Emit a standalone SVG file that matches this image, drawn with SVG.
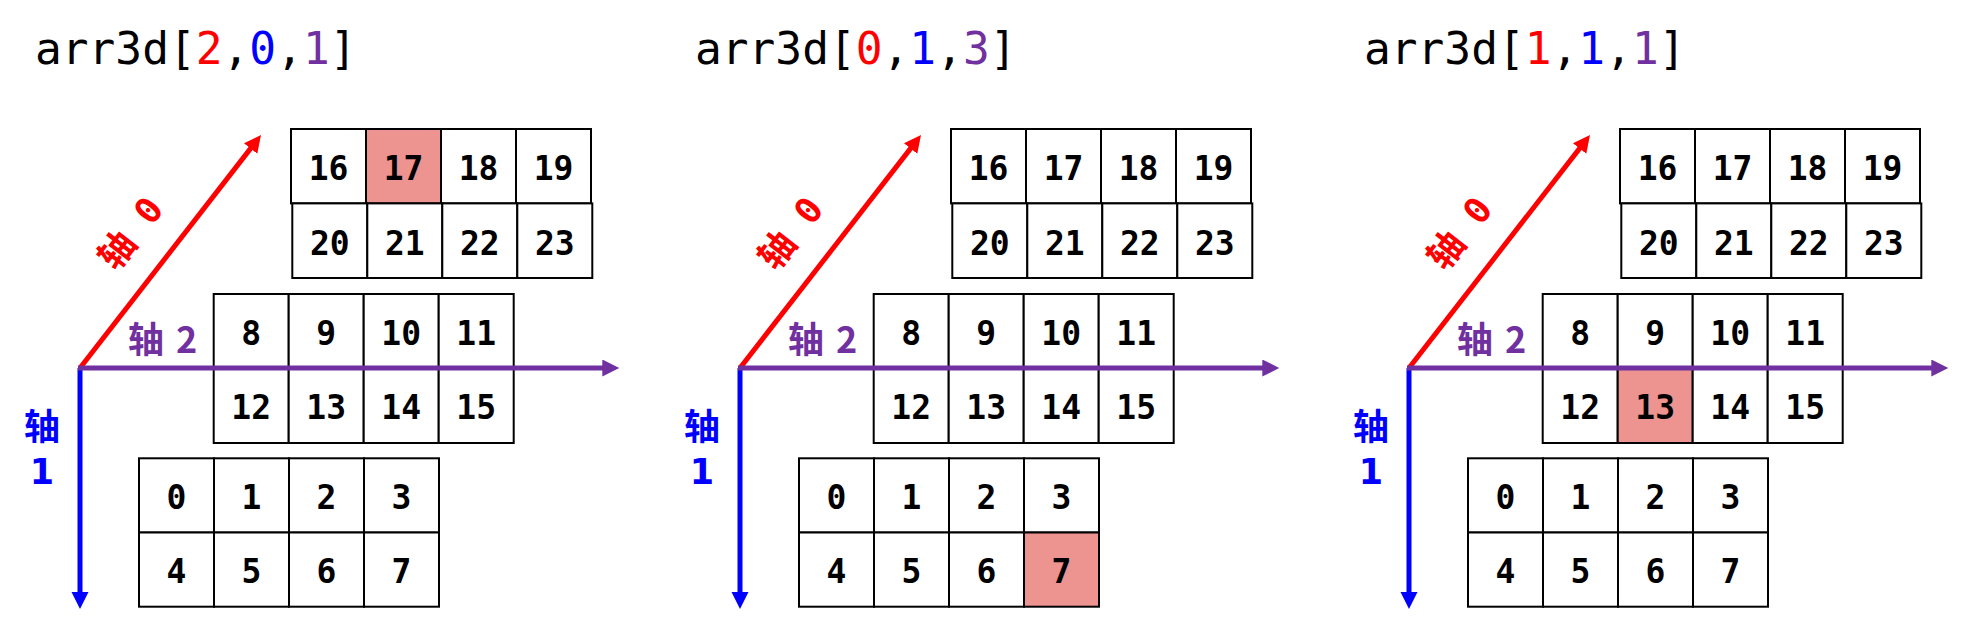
<svg xmlns="http://www.w3.org/2000/svg" width="1968" height="629" viewBox="0 0 1968 629">
<style>
.bg{fill:#ffffff}
.title{font-family:"DejaVu Sans Mono","Liberation Mono",monospace;font-size:44.5px;fill:#000}
.r{fill:#FF0000}.b{fill:#0000FF}.p{fill:#7030A0}
.cell rect{fill:#ffffff;stroke:#000;stroke-width:2}
.cell.hl rect{fill:#ED9390}
.cell text{font-family:"DejaVu Sans Mono","Liberation Mono",monospace;font-weight:bold;font-size:33px;text-anchor:middle;fill:#000}
.ax{stroke-width:5;fill:none}
.ax0{stroke:#FF0000}.ax1{stroke:#0000FF}.ax2{stroke:#7030A0}
.lbl{font-family:"Noto Sans CJK SC","DejaVu Sans",sans-serif;font-weight:bold;font-size:36px}
.num{font-family:"DejaVu Sans","Noto Sans CJK SC",sans-serif;font-weight:bold;font-size:35px}
.lbl0{font-family:"DejaVu Sans Mono","Noto Sans CJK SC",monospace;font-weight:bold;font-size:36px;text-anchor:middle;fill:#FF0000}
</style>
<defs>
<marker id="hr" markerUnits="userSpaceOnUse" markerWidth="18" markerHeight="18" refX="3" refY="8.5" orient="auto"><path d="M0,0 L17,8.5 L0,17 z" fill="#FF0000"/></marker>
<marker id="hb" markerUnits="userSpaceOnUse" markerWidth="18" markerHeight="18" refX="3" refY="8.5" orient="auto"><path d="M0,0 L17,8.5 L0,17 z" fill="#0000FF"/></marker>
<marker id="hp" markerUnits="userSpaceOnUse" markerWidth="18" markerHeight="18" refX="3" refY="8.5" orient="auto"><path d="M0,0 L17,8.5 L0,17 z" fill="#7030A0"/></marker>
</defs>
<rect class="bg" x="0" y="0" width="1968" height="629"/>

<!-- PANEL 1 -->
<g id="panel1">
<text id="p1-title" class="title" x="35" y="64">arr3d[<tspan class="r">2</tspan>,<tspan class="b">0</tspan>,<tspan class="p">1</tspan>]</text>
<g id="p1-grid0">
<g id="p1-c0" class="cell"><rect x="139" y="458.3" width="75" height="74.2"/><text x="176.5" y="508.8">0</text></g>
<g id="p1-c1" class="cell"><rect x="214" y="458.3" width="75" height="74.2"/><text x="251.5" y="508.8">1</text></g>
<g id="p1-c2" class="cell"><rect x="289" y="458.3" width="75" height="74.2"/><text x="326.5" y="508.8">2</text></g>
<g id="p1-c3" class="cell"><rect x="364" y="458.3" width="75" height="74.2"/><text x="401.5" y="508.8">3</text></g>
<g id="p1-c4" class="cell"><rect x="139" y="532.5" width="75" height="74.2"/><text x="176.5" y="583">4</text></g>
<g id="p1-c5" class="cell"><rect x="214" y="532.5" width="75" height="74.2"/><text x="251.5" y="583">5</text></g>
<g id="p1-c6" class="cell"><rect x="289" y="532.5" width="75" height="74.2"/><text x="326.5" y="583">6</text></g>
<g id="p1-c7" class="cell"><rect x="364" y="532.5" width="75" height="74.2"/><text x="401.5" y="583">7</text></g>
</g>
<g id="p1-grid1">
<g id="p1-c8" class="cell"><rect x="213.7" y="294" width="75" height="74.5"/><text x="251.2" y="344.5">8</text></g>
<g id="p1-c9" class="cell"><rect x="288.7" y="294" width="75" height="74.5"/><text x="326.2" y="344.5">9</text></g>
<g id="p1-c10" class="cell"><rect x="363.7" y="294" width="75" height="74.5"/><text x="401.2" y="344.5">10</text></g>
<g id="p1-c11" class="cell"><rect x="438.7" y="294" width="75" height="74.5"/><text x="476.2" y="344.5">11</text></g>
<g id="p1-c12" class="cell"><rect x="213.7" y="368.5" width="75" height="74.5"/><text x="251.2" y="419">12</text></g>
<g id="p1-c13" class="cell"><rect x="288.7" y="368.5" width="75" height="74.5"/><text x="326.2" y="419">13</text></g>
<g id="p1-c14" class="cell"><rect x="363.7" y="368.5" width="75" height="74.5"/><text x="401.2" y="419">14</text></g>
<g id="p1-c15" class="cell"><rect x="438.7" y="368.5" width="75" height="74.5"/><text x="476.2" y="419">15</text></g>
</g>
<g id="p1-grid2">
<g id="p1-c16" class="cell"><rect x="291" y="129" width="75" height="74.4"/><text x="328.5" y="180">16</text></g>
<g id="p1-c17" class="cell hl"><rect x="366" y="129" width="75" height="74.4"/><text x="403.5" y="180">17</text></g>
<g id="p1-c18" class="cell"><rect x="441" y="129" width="75" height="74.4"/><text x="478.5" y="180">18</text></g>
<g id="p1-c19" class="cell"><rect x="516" y="129" width="75" height="74.4"/><text x="553.5" y="180">19</text></g>
<g id="p1-c20" class="cell"><rect x="292.3" y="203.4" width="75" height="74.6"/><text x="329.8" y="254.5">20</text></g>
<g id="p1-c21" class="cell"><rect x="367.3" y="203.4" width="75" height="74.6"/><text x="404.8" y="254.5">21</text></g>
<g id="p1-c22" class="cell"><rect x="442.3" y="203.4" width="75" height="74.6"/><text x="479.8" y="254.5">22</text></g>
<g id="p1-c23" class="cell"><rect x="517.3" y="203.4" width="75" height="74.6"/><text x="554.8" y="254.5">23</text></g>
</g>
<g id="p1-connectors">
<line class="ax ax0" x1="80" y1="368" x2="252.4" y2="146.1" marker-end="url(#hr)"/>
<line class="ax ax1" x1="80" y1="368" x2="80" y2="595" marker-end="url(#hb)"/>
<line class="ax ax2" x1="78" y1="368" x2="605.3" y2="368" marker-end="url(#hp)"/>
</g>
<g id="p1-labels">
<text class="lbl0" transform="translate(140.6,241) rotate(-52.16)">轴 0</text>
<text class="lbl p" x="128" y="353">轴<tspan dx="12">2</tspan></text>
<text class="lbl b" x="42" y="440" text-anchor="middle">轴</text>
<text class="num b" x="42" y="484" text-anchor="middle">1</text>
</g>
</g>

<!-- PANEL 2 -->
<g id="panel2" transform="translate(660,0)">
<text id="p2-title" class="title" x="35" y="64">arr3d[<tspan class="r">0</tspan>,<tspan class="b">1</tspan>,<tspan class="p">3</tspan>]</text>
<g id="p2-grid0">
<g id="p2-c0" class="cell"><rect x="139" y="458.3" width="75" height="74.2"/><text x="176.5" y="508.8">0</text></g>
<g id="p2-c1" class="cell"><rect x="214" y="458.3" width="75" height="74.2"/><text x="251.5" y="508.8">1</text></g>
<g id="p2-c2" class="cell"><rect x="289" y="458.3" width="75" height="74.2"/><text x="326.5" y="508.8">2</text></g>
<g id="p2-c3" class="cell"><rect x="364" y="458.3" width="75" height="74.2"/><text x="401.5" y="508.8">3</text></g>
<g id="p2-c4" class="cell"><rect x="139" y="532.5" width="75" height="74.2"/><text x="176.5" y="583">4</text></g>
<g id="p2-c5" class="cell"><rect x="214" y="532.5" width="75" height="74.2"/><text x="251.5" y="583">5</text></g>
<g id="p2-c6" class="cell"><rect x="289" y="532.5" width="75" height="74.2"/><text x="326.5" y="583">6</text></g>
<g id="p2-c7" class="cell hl"><rect x="364" y="532.5" width="75" height="74.2"/><text x="401.5" y="583">7</text></g>
</g>
<g id="p2-grid1">
<g id="p2-c8" class="cell"><rect x="213.7" y="294" width="75" height="74.5"/><text x="251.2" y="344.5">8</text></g>
<g id="p2-c9" class="cell"><rect x="288.7" y="294" width="75" height="74.5"/><text x="326.2" y="344.5">9</text></g>
<g id="p2-c10" class="cell"><rect x="363.7" y="294" width="75" height="74.5"/><text x="401.2" y="344.5">10</text></g>
<g id="p2-c11" class="cell"><rect x="438.7" y="294" width="75" height="74.5"/><text x="476.2" y="344.5">11</text></g>
<g id="p2-c12" class="cell"><rect x="213.7" y="368.5" width="75" height="74.5"/><text x="251.2" y="419">12</text></g>
<g id="p2-c13" class="cell"><rect x="288.7" y="368.5" width="75" height="74.5"/><text x="326.2" y="419">13</text></g>
<g id="p2-c14" class="cell"><rect x="363.7" y="368.5" width="75" height="74.5"/><text x="401.2" y="419">14</text></g>
<g id="p2-c15" class="cell"><rect x="438.7" y="368.5" width="75" height="74.5"/><text x="476.2" y="419">15</text></g>
</g>
<g id="p2-grid2">
<g id="p2-c16" class="cell"><rect x="291" y="129" width="75" height="74.4"/><text x="328.5" y="180">16</text></g>
<g id="p2-c17" class="cell"><rect x="366" y="129" width="75" height="74.4"/><text x="403.5" y="180">17</text></g>
<g id="p2-c18" class="cell"><rect x="441" y="129" width="75" height="74.4"/><text x="478.5" y="180">18</text></g>
<g id="p2-c19" class="cell"><rect x="516" y="129" width="75" height="74.4"/><text x="553.5" y="180">19</text></g>
<g id="p2-c20" class="cell"><rect x="292.3" y="203.4" width="75" height="74.6"/><text x="329.8" y="254.5">20</text></g>
<g id="p2-c21" class="cell"><rect x="367.3" y="203.4" width="75" height="74.6"/><text x="404.8" y="254.5">21</text></g>
<g id="p2-c22" class="cell"><rect x="442.3" y="203.4" width="75" height="74.6"/><text x="479.8" y="254.5">22</text></g>
<g id="p2-c23" class="cell"><rect x="517.3" y="203.4" width="75" height="74.6"/><text x="554.8" y="254.5">23</text></g>
</g>
<g id="p2-connectors">
<line class="ax ax0" x1="80" y1="368" x2="252.4" y2="146.1" marker-end="url(#hr)"/>
<line class="ax ax1" x1="80" y1="368" x2="80" y2="595" marker-end="url(#hb)"/>
<line class="ax ax2" x1="78" y1="368" x2="605.3" y2="368" marker-end="url(#hp)"/>
</g>
<g id="p2-labels">
<text class="lbl0" transform="translate(140.6,241) rotate(-52.16)">轴 0</text>
<text class="lbl p" x="128" y="353">轴<tspan dx="12">2</tspan></text>
<text class="lbl b" x="42" y="440" text-anchor="middle">轴</text>
<text class="num b" x="42" y="484" text-anchor="middle">1</text>
</g>
</g>

<!-- PANEL 3 -->
<g id="panel3" transform="translate(1329,0)">
<text id="p3-title" class="title" x="35" y="64">arr3d[<tspan class="r">1</tspan>,<tspan class="b">1</tspan>,<tspan class="p">1</tspan>]</text>
<g id="p3-grid0">
<g id="p3-c0" class="cell"><rect x="139" y="458.3" width="75" height="74.2"/><text x="176.5" y="508.8">0</text></g>
<g id="p3-c1" class="cell"><rect x="214" y="458.3" width="75" height="74.2"/><text x="251.5" y="508.8">1</text></g>
<g id="p3-c2" class="cell"><rect x="289" y="458.3" width="75" height="74.2"/><text x="326.5" y="508.8">2</text></g>
<g id="p3-c3" class="cell"><rect x="364" y="458.3" width="75" height="74.2"/><text x="401.5" y="508.8">3</text></g>
<g id="p3-c4" class="cell"><rect x="139" y="532.5" width="75" height="74.2"/><text x="176.5" y="583">4</text></g>
<g id="p3-c5" class="cell"><rect x="214" y="532.5" width="75" height="74.2"/><text x="251.5" y="583">5</text></g>
<g id="p3-c6" class="cell"><rect x="289" y="532.5" width="75" height="74.2"/><text x="326.5" y="583">6</text></g>
<g id="p3-c7" class="cell"><rect x="364" y="532.5" width="75" height="74.2"/><text x="401.5" y="583">7</text></g>
</g>
<g id="p3-grid1">
<g id="p3-c8" class="cell"><rect x="213.7" y="294" width="75" height="74.5"/><text x="251.2" y="344.5">8</text></g>
<g id="p3-c9" class="cell"><rect x="288.7" y="294" width="75" height="74.5"/><text x="326.2" y="344.5">9</text></g>
<g id="p3-c10" class="cell"><rect x="363.7" y="294" width="75" height="74.5"/><text x="401.2" y="344.5">10</text></g>
<g id="p3-c11" class="cell"><rect x="438.7" y="294" width="75" height="74.5"/><text x="476.2" y="344.5">11</text></g>
<g id="p3-c12" class="cell"><rect x="213.7" y="368.5" width="75" height="74.5"/><text x="251.2" y="419">12</text></g>
<g id="p3-c13" class="cell hl"><rect x="288.7" y="368.5" width="75" height="74.5"/><text x="326.2" y="419">13</text></g>
<g id="p3-c14" class="cell"><rect x="363.7" y="368.5" width="75" height="74.5"/><text x="401.2" y="419">14</text></g>
<g id="p3-c15" class="cell"><rect x="438.7" y="368.5" width="75" height="74.5"/><text x="476.2" y="419">15</text></g>
</g>
<g id="p3-grid2">
<g id="p3-c16" class="cell"><rect x="291" y="129" width="75" height="74.4"/><text x="328.5" y="180">16</text></g>
<g id="p3-c17" class="cell"><rect x="366" y="129" width="75" height="74.4"/><text x="403.5" y="180">17</text></g>
<g id="p3-c18" class="cell"><rect x="441" y="129" width="75" height="74.4"/><text x="478.5" y="180">18</text></g>
<g id="p3-c19" class="cell"><rect x="516" y="129" width="75" height="74.4"/><text x="553.5" y="180">19</text></g>
<g id="p3-c20" class="cell"><rect x="292.3" y="203.4" width="75" height="74.6"/><text x="329.8" y="254.5">20</text></g>
<g id="p3-c21" class="cell"><rect x="367.3" y="203.4" width="75" height="74.6"/><text x="404.8" y="254.5">21</text></g>
<g id="p3-c22" class="cell"><rect x="442.3" y="203.4" width="75" height="74.6"/><text x="479.8" y="254.5">22</text></g>
<g id="p3-c23" class="cell"><rect x="517.3" y="203.4" width="75" height="74.6"/><text x="554.8" y="254.5">23</text></g>
</g>
<g id="p3-connectors">
<line class="ax ax0" x1="80" y1="368" x2="252.4" y2="146.1" marker-end="url(#hr)"/>
<line class="ax ax1" x1="80" y1="368" x2="80" y2="595" marker-end="url(#hb)"/>
<line class="ax ax2" x1="78" y1="368" x2="605.3" y2="368" marker-end="url(#hp)"/>
</g>
<g id="p3-labels">
<text class="lbl0" transform="translate(140.6,241) rotate(-52.16)">轴 0</text>
<text class="lbl p" x="128" y="353">轴<tspan dx="12">2</tspan></text>
<text class="lbl b" x="42" y="440" text-anchor="middle">轴</text>
<text class="num b" x="42" y="484" text-anchor="middle">1</text>
</g>
</g>
</svg>
